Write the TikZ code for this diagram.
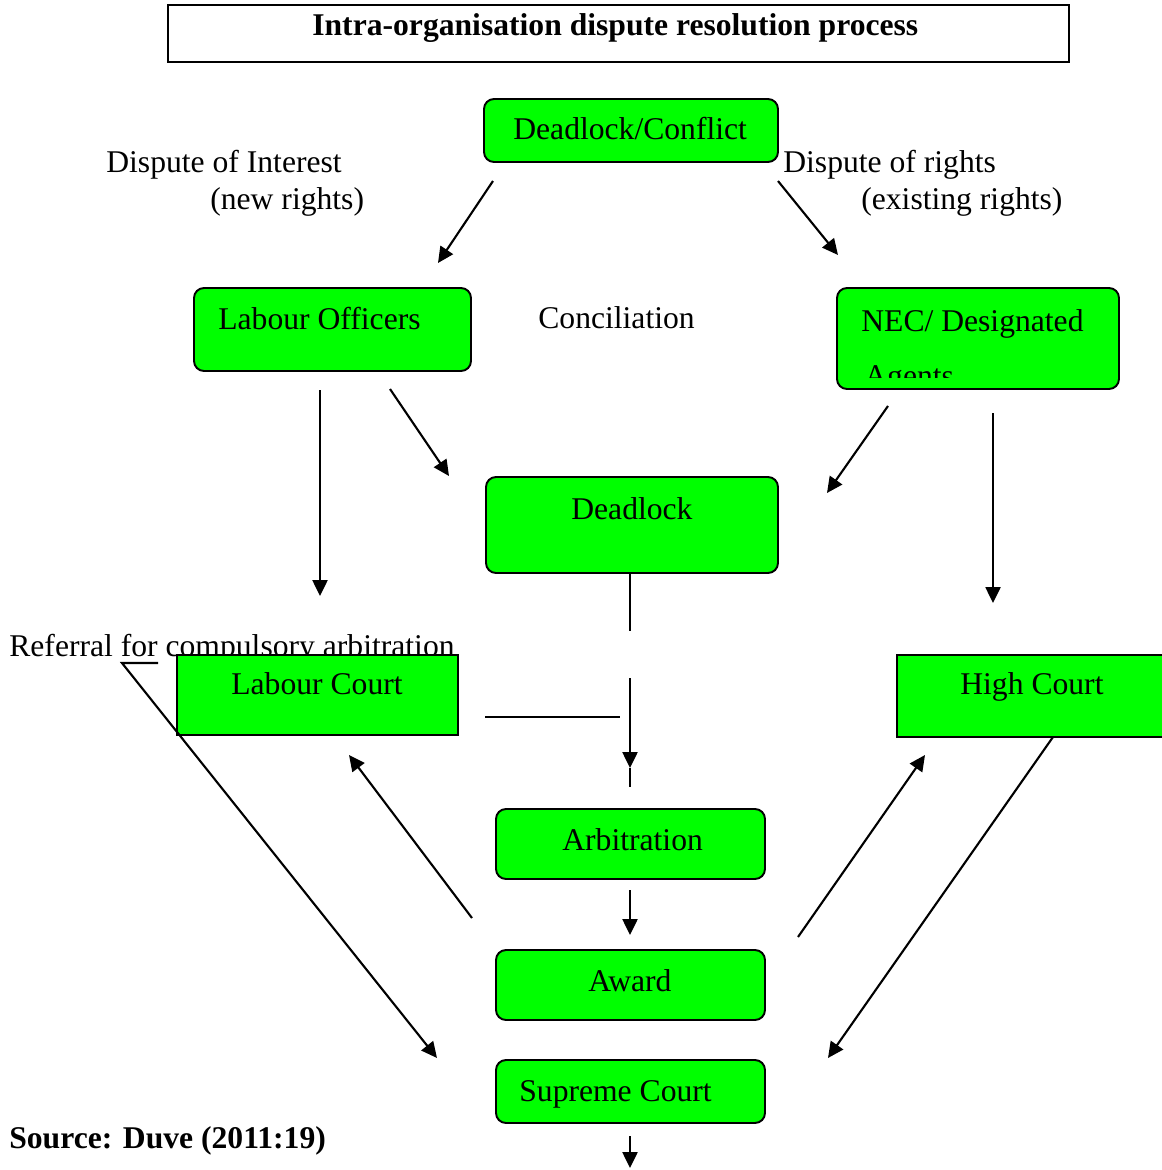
\documentclass[tikz,border=0pt]{standalone}
\usepackage{fontspec}
\setmainfont{Liberation Serif}
\usetikzlibrary{arrows.meta,fit}
\definecolor{boxgreen}{RGB}{0,255,0}
\tikzset{
  greenbox/.style={draw=black, line width=1.1pt, fill=boxgreen, rounded corners=0.2cm, inner sep=0pt},
  sharpbox/.style={greenbox, sharp corners},
  txt/.style={inner sep=0pt, anchor=base west, font=\fontsize{18}{21.6}\selectfont},
  conn/.style={line width=1.2pt},
  arr/.style={conn, -{Triangle[length=9pt,width=8.5pt]}},
}

\begin{document}
\begin{tikzpicture}[x=0.02cm, y=-0.02cm]
		%%%%% FRAME %%%%%
		\useasboundingbox (0,0) rectangle (1161,1170);
		
		\node[draw, line width=1.1pt, inner sep=0pt, fit={(168,5) (1069,62)}] (titlebox) {};
		\node[txt, font=\fontsize{18}{21.6}\selectfont\bfseries] (title) at (312,35) {Intra-organisation dispute resolution process};
		
		%%%%% BOXES %%%%%
		\node[greenbox, fit={(484,99) (778,162)}] (conflict) {};
		\node[txt] (conflicttxt) at (513,139) {Deadlock/Conflict};
		
		\node[txt] (interest) at (106,172) {Dispute of Interest};
		\node[txt] (newrights) at (210,209) {(new rights)};
		\node[txt] (rights) at (783,172) {Dispute of rights};
		\node[txt] (oldrights) at (861,209) {(existing rights)};
		
		\node[greenbox, fit={(194,288) (471,371)}] (officers) {};
		\node[txt] (officerstxt) at (218,329) {Labour Officers};
		\node[txt] (conciliation) at (538,328) {Conciliation};
		
		\node[greenbox, fit={(837,288) (1119,389)}] (nec) {};
		\node[txt] (nectxt) at (861,331) {NEC/ Designated};
		\begin{scope}
			\clip (837,288) rectangle (1119,377);
			\node[txt] (agents) at (864,386) {Agents};
		\end{scope}
		
		\node[greenbox, fit={(486,477) (778,573)}] (deadlock) {};
		\node[txt] (deadlocktxt) at (571,519) {Deadlock};
		
		\node[txt] (referral) at (9,656) {Referral for compulsory arbitration};
		\node[sharpbox, fit={(177,655) (458,735)}] (labourcourt) {};
		\node[txt] (labourcourttxt) at (231,694) {Labour Court};
		
		\node[sharpbox, fit={(897,655) (1180,737)}] (highcourt) {};
		\node[txt] (highcourttxt) at (960,694) {High Court};
		
		\node[greenbox, fit={(496,809) (765,879)}] (arbitration) {};
		\node[txt] (arbitrationtxt) at (562,850) {Arbitration};
		
		\node[greenbox, fit={(496,950) (765,1020)}] (award) {};
		\node[txt] (awardtxt) at (588,991) {Award};
		
		\node[greenbox, fit={(496,1060) (765,1123)}] (supreme) {};
		\node[txt] (supremetxt) at (519,1101) {Supreme Court};
		
		\node[txt, font=\fontsize{18}{21.6}\selectfont\bfseries] (source) at (9,1148) {Source: Duve (2011:19)};
		
		%%%%% CONNECTORS %%%%%
		\coordinate (conflictL) at (493,181);
		\coordinate (officersT) at (438,263);
		\coordinate (conflictR) at (778,181);
		\coordinate (necT) at (838,255);
		\coordinate (officersB) at (320,390);
		\coordinate (labourcourtT) at (320,596);
		\coordinate (officersR) at (390,389);
		\coordinate (deadlockL) at (449,476);
		\coordinate (necL) at (888,406);
		\coordinate (deadlockR) at (827,493);
		\coordinate (necB) at (993,413);
		\coordinate (highcourtT) at (993,603);
		\coordinate (deadlockB) at (630,631);
		\coordinate (joinL) at (485,717);
		\coordinate (joinR) at (620,717);
		\coordinate (downT) at (630,678);
		\coordinate (downM) at (630,768);
		\coordinate (downB) at (630,787);
		\coordinate (referralA) at (158,663);
		\coordinate (referralB) at (122,663);
		\coordinate (supremeL) at (437,1058);
		\coordinate (awardL) at (472,918);
		\coordinate (labourcourtB) at (349,755);
		\coordinate (awardR) at (798,937);
		\coordinate (highcourtB) at (925,755);
		\coordinate (highcourtD) at (1053,737);
		\coordinate (supremeR) at (828,1058);
		\coordinate (arbitrationB) at (630,890);
		\coordinate (awardT) at (630,935);
		\coordinate (supremeB) at (630,1136);
		\coordinate (pageB) at (630,1168);
		
		\draw[arr] (conflictL) -- (officersT);
		\draw[arr] (conflictR) -- (necT);
		\draw[arr] (officersB) -- (labourcourtT);
		\draw[arr] (officersR) -- (deadlockL);
		\draw[arr] (necL) -- (deadlockR);
		\draw[arr] (necB) -- (highcourtT);
		\draw[conn] (deadlock.south -| deadlockB) -- (deadlockB);
		\draw[conn] (joinL) -- (joinR);
		\draw[arr] (downT) -- (downM);
		\draw[conn] (downM) -- (downB);
		\draw[arr] (referralA) -- (referralB) -- (supremeL);
		\draw[arr] (awardL) -- (labourcourtB);
		\draw[arr] (awardR) -- (highcourtB);
		\draw[arr] (highcourtD) -- (supremeR);
		\draw[arr] (arbitrationB) -- (awardT);
		\draw[arr] (supremeB) -- (pageB);
		
		%%%%% END %%%%%
\end{tikzpicture}
\end{document}
